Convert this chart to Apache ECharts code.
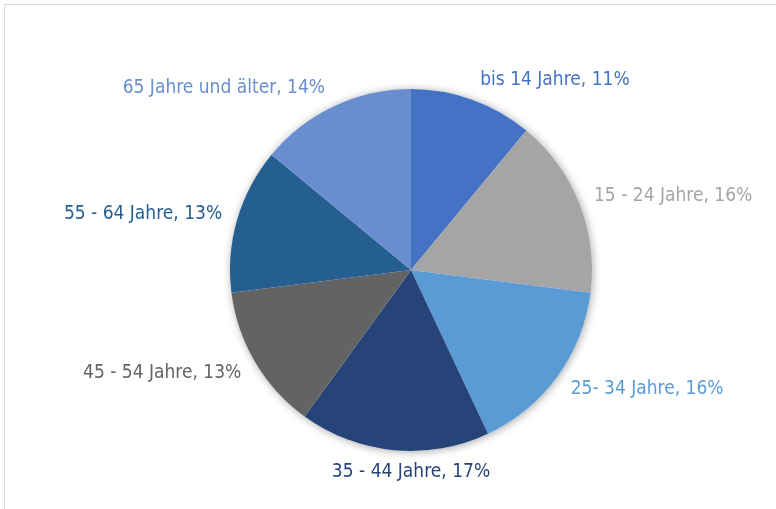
<!DOCTYPE html>
<html>
<head>
<meta charset="utf-8">
<script src="https://cdn.jsdelivr.net/npm/echarts@6/dist/echarts.min.js"></script>
<style>
  html, body { margin: 0; padding: 0; background: #fff; }
  #frame { position: absolute; left: 4px; top: 4px; width: 820px; height: 600px; border: 1px solid #d9d9d9; }
  #chart { position: absolute; left: 0; top: 0; width: 776px; height: 509px; }
</style>
</head>
<body>
<div id="frame"></div>
<div id="chart"></div>
<script>
// Altersverteilung (Anteile in %)
const categories = ['bis 14 Jahre', '15 - 24 Jahre', '25- 34 Jahre', '35 - 44 Jahre', '45 - 54 Jahre', '55 - 64 Jahre', '65 Jahre und älter']
const values = [11, 16, 16, 17, 13, 13, 14]
const colors = ['#4472C4', '#A5A5A5', '#5B9BD5', '#264478', '#636363', '#255E91', '#698ED0']

const center = [411, 270]
const radius = 181
const labelGap = 11.5
const labelPad = 4
const fontFamily = "'Liberation Sans Narrow', 'DejaVu Sans Condensed', 'Liberation Sans', sans-serif"

const total = values.reduce((a, b) => a + b, 0)
const cumul = []
values.reduce((acc, v, i) => { cumul[i] = acc; return acc + v }, 0)

const chart = echarts.init(document.getElementById('chart'), null, { renderer: 'canvas' })

chart.setOption({
  animation: false,
  series: [
    {
      // shadow disc underneath the pie
      type: 'pie',
      silent: true,
      z: 1,
      center: center,
      radius: radius,
      label: { show: false },
      labelLine: { show: false },
      itemStyle: {
        color: '#ffffff',
        shadowBlur: 8,
        shadowOffsetX: 1,
        shadowOffsetY: 1,
        shadowColor: 'rgba(0,0,0,0.35)'
      },
      data: [{ value: 1, name: '' }]
    },
    {
      type: 'pie',
      z: 2,
      center: center,
      radius: radius,
      startAngle: 90,
      clockwise: true,
      itemStyle: { borderWidth: 0 },
      emphasis: { disabled: true },
      labelLine: { show: false },
      label: {
        show: true,
        position: 'outside',
        overflow: 'none',
        formatter: '{b}, {c}%',
        fontFamily: fontFamily,
        fontSize: 19,
        color: 'inherit'
      },
      // Excel-like placement: anchor just outside the slice middle, box pushed away from the pie
      labelLayout: function (p) {
        const i = p.dataIndex
        const mid = (cumul[i] + values[i] / 2) / total * Math.PI * 2
        const s = Math.sin(mid)
        const c = Math.cos(mid)
        const ax = center[0] + s * (radius + labelGap)
        const ay = center[1] - c * (radius + labelGap)
        const w = p.labelRect.width
        const h = p.labelRect.height
        let left
        if (Math.abs(s) < 0.2) left = center[0] - w / 2
        else left = s > 0 ? ax + labelPad : ax - w - labelPad
        const top = ay - h * (1 + c) / 2 + 0.5
        return { x: left, y: top, align: 'left', verticalAlign: 'top' }
      },
      data: categories.map((name, i) => ({
        name: name,
        value: values[i],
        itemStyle: { color: colors[i] },
        label: { color: colors[i] }
      }))
    }
  ]
})
</script>
</body>
</html>
